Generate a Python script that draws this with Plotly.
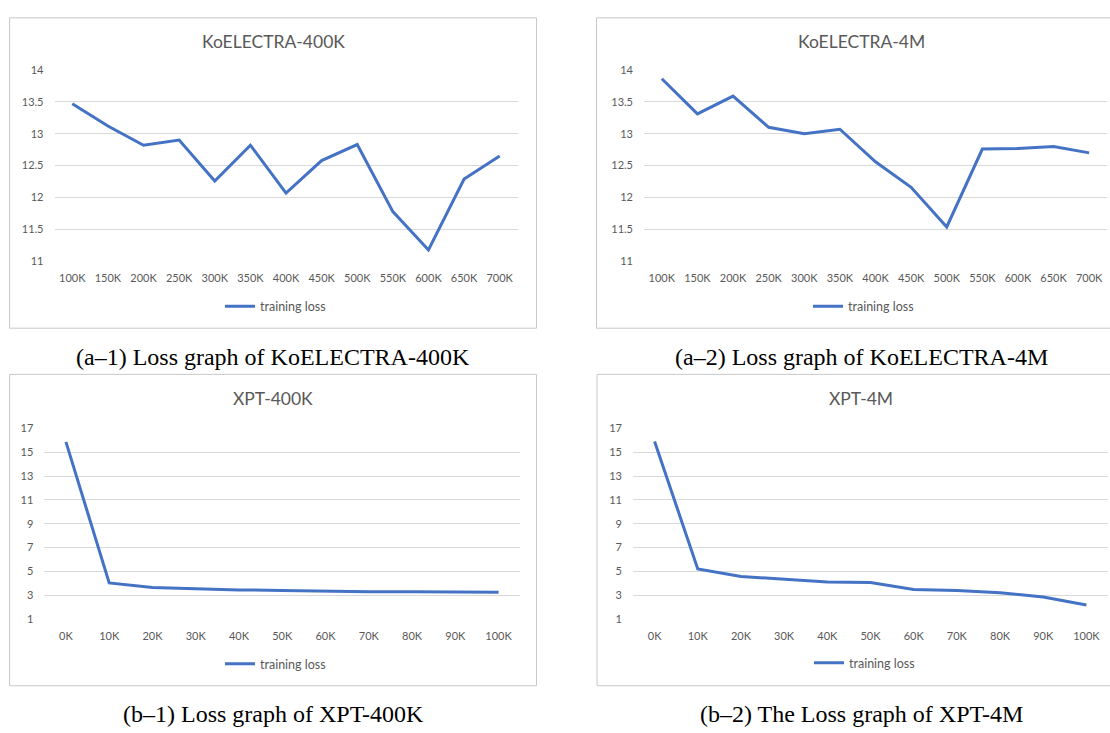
import plotly.graph_objects as go

W, H = 1110, 733

# ---- data ----
ko_steps = ["100K", "150K", "200K", "250K", "300K", "350K", "400K",
            "450K", "500K", "550K", "600K", "650K", "700K"]
ko400k_loss = [13.47, 13.12, 12.82, 12.90, 12.26, 12.82, 12.07,
               12.58, 12.83, 11.78, 11.18, 12.29, 12.65]
ko4m_loss = [13.86, 13.31, 13.59, 13.10, 13.00, 13.07, 12.56,
             12.16, 11.54, 12.76, 12.77, 12.80, 12.70]

xpt_steps = ["0K", "10K", "20K", "30K", "40K", "50K", "60K",
             "70K", "80K", "90K", "100K"]
xpt400k_loss = [15.87, 4.02, 3.64, 3.53, 3.44, 3.39, 3.33, 3.28, 3.28, 3.28, 3.25]
xpt4m_loss = [15.90, 5.20, 4.57, 4.35, 4.10, 4.05, 3.47, 3.39, 3.20, 2.84, 2.18]

chart_titles = ["KoELECTRA-400K", "KoELECTRA-4M", "XPT-400K", "XPT-4M"]
captions = ["(a\u20131) Loss graph of KoELECTRA-400K",
            "(a\u20132) Loss graph of KoELECTRA-4M",
            "(b\u20131) Loss graph of XPT-400K",
            "(b\u20132) The Loss graph of XPT-4M"]
series_name = "training loss"

ko_yticks = [11, 11.5, 12, 12.5, 13, 13.5, 14]
ko_yticklabels = ["11", "11.5", "12", "12.5", "13", "13.5", "14"]
xpt_yticks = [1, 3, 5, 7, 9, 11, 13, 15, 17]
xpt_yticklabels = ["1", "3", "5", "7", "9", "11", "13", "15", "17"]

# ---- layout geometry (pixels) ----
def px(x):
    return x / W

def py(y):
    return 1 - y / H

panels = [
    dict(box=(9.6, 11, 536.5, 327), plot=(54.5, 64, 517.5, 259),
         title=(273, 35), legend=(220, 305), caption=(273, 356)),
    dict(box=(596.5, 11, 1124, 327), plot=(644, 64, 1107, 259),
         title=(861, 35), legend=(808, 305), caption=(861, 356)),
    dict(box=(9.6, 374, 536.5, 691), plot=(44.3, 429, 520.2, 623),
         title=(273, 399), legend=(220, 669), caption=(273, 720)),
    dict(box=(597, 374, 1124, 691), plot=(633, 429, 1108, 623),
         title=(861, 399), legend=(809, 668), caption=(861, 720)),
]

series = [
    (ko_steps, ko400k_loss, ko_yticks, ko_yticklabels, [11, 14]),
    (ko_steps, ko4m_loss, ko_yticks, ko_yticklabels, [11, 14]),
    (xpt_steps, xpt400k_loss, xpt_yticks, xpt_yticklabels, [1, 17]),
    (xpt_steps, xpt4m_loss, xpt_yticks, xpt_yticklabels, [1, 17]),
]

LINE = "#4472C4"
GRID = "#D9D9D9"
TXT = "#595959"
SANS = "Lato"
SERIF = "Liberation Serif, Times New Roman, serif"

fig = go.Figure()
shapes = []
annotations = []
layout = dict(
    width=W, height=H,
    margin=dict(l=0, r=0, t=0, b=0),
    paper_bgcolor="white", plot_bgcolor="white",
    showlegend=True,
)

for i, (p, (cats, vals, yt, ytl, yr)) in enumerate(zip(panels, series)):
    n = i + 1
    xa = "x" if n == 1 else f"x{n}"
    ya = "y" if n == 1 else f"y{n}"
    lg = "legend" if n == 1 else f"legend{n}"
    fig.add_trace(go.Scatter(
        x=cats, y=vals, mode="lines", name=series_name,
        line=dict(color=LINE, width=3),
        xaxis=xa, yaxis=ya, legend=lg, showlegend=True,
    ))
    x0, y0, x1, y1 = p["plot"]
    layout["xaxis" if n == 1 else f"xaxis{n}"] = dict(
        domain=[px(x0), px(x1)], anchor=ya, type="category",
        range=[-0.5, len(cats) - 0.5], showgrid=False, zeroline=False,
        showline=False, ticks="", ticklabelstandoff=9,
        tickfont=dict(family=SANS, size=11, color=TXT), fixedrange=True,
    )
    layout["yaxis" if n == 1 else f"yaxis{n}"] = dict(
        domain=[py(y1), py(y0)], anchor=xa, range=yr,
        tickmode="array", tickvals=yt, ticktext=ytl,
        showgrid=True, gridcolor=GRID, gridwidth=1, zeroline=False,
        showline=False, ticks="", ticklabelstandoff=10,
        tickfont=dict(family=SANS, size=11, color=TXT), fixedrange=True,
    )
    lx, ly = p["legend"]
    layout[lg] = dict(
        x=px(lx), y=py(ly), xanchor="left", yanchor="middle",
        bgcolor="rgba(0,0,0,0)", borderwidth=0,
        font=dict(family=SANS, size=12.5, color=TXT),
        orientation="h",
    )
    bx0, by0, bx1, by1 = p["box"]
    shapes.append(dict(type="rect", xref="paper", yref="paper",
                       x0=px(bx0), x1=px(bx1), y0=py(by1), y1=py(by0),
                       line=dict(color="#C8C8C8", width=1)))
    tx, ty = p["title"]
    annotations.append(dict(text=chart_titles[i], xref="paper", yref="paper",
                            x=px(tx), y=py(ty), xanchor="center", yanchor="middle",
                            showarrow=False,
                            font=dict(family=SANS, size=17.5, color=TXT)))
    cx, cy = p["caption"]
    annotations.append(dict(text=captions[i], xref="paper", yref="paper",
                            x=px(cx), y=py(cy), xanchor="center", yanchor="middle",
                            showarrow=False,
                            font=dict(family=SERIF, size=24, color="black")))

layout["shapes"] = shapes
layout["annotations"] = annotations
fig.update_layout(**layout)
fig.write_html("out.html",
               config={"displayModeBar": False},
               post_script="document.body.style.margin='0px';document.body.style.overflow='hidden';")
